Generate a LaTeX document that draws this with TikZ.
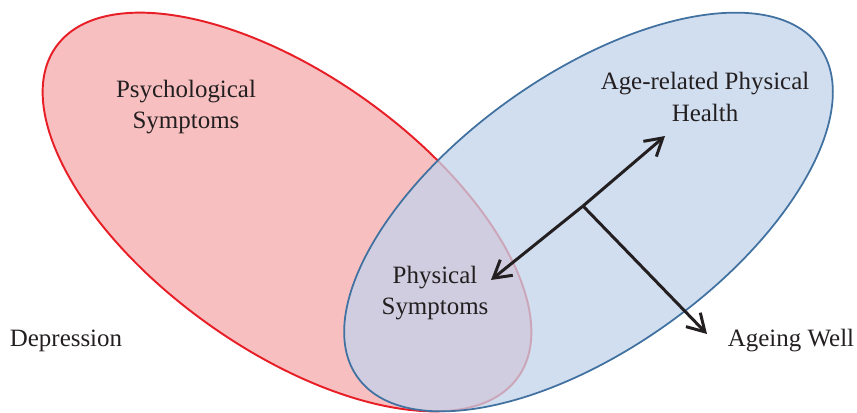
\documentclass[tikz,border=0pt]{standalone}
\usepackage{fontspec}
\setmainfont{Liberation Serif}
\usetikzlibrary{arrows.meta}
\definecolor{redfill}{RGB}{247,191,192}
\definecolor{redline}{RGB}{232,30,38}
\definecolor{bluefill}{RGB}{194,211,234}
\definecolor{blueline}{RGB}{65,113,160}
\definecolor{inkgray}{RGB}{35,31,32}
\begin{document}
\begin{tikzpicture}[x=0.02cm, y=-0.02cm]
    \tikzstyle{redpatch} = [fill=redfill, draw=redline, line width=1.1pt]
    \tikzstyle{bluepatch} = [fill=bluefill, fill opacity=0.75, draw=blueline, line width=1pt]
    \tikzstyle{textlabel} = [font=\fontsize{14.2}{18}\selectfont, text=inkgray, align=center, inner sep=0pt]
    \tikzstyle{relarrow} = [draw=inkgray, line width=1.7pt, -{Straight Barb[length=3.4mm, width=4mm]}]

    \useasboundingbox (0,0) rectangle (857,412);

    % Depression and ageing ellipses
    \draw[redpatch, shift={(287,212)}, rotate=-35.6] (0,0) ellipse [x radius=284, y radius=137];
    \draw[bluepatch, shift={(588.5,212)}, rotate=35.6] (0,0) ellipse [x radius=284, y radius=137];

    % Labels
    \node[textlabel] (psych) at (186,107) {Psychological\\Symptoms};
    \node[textlabel] (agehealth) at (705,97) {Age-related Physical\\Health};
    \node[textlabel] (physsym) at (435,293) {Physical\\Symptoms};
    \node[textlabel] (depression) at (66,341) {Depression};
    \node[textlabel] (ageingwell) at (791,341) {Ageing Well};

    % Arrow ends
    \coordinate (hub) at (583,206);
    \coordinate (healthtip) at (665,136);
    \coordinate (symptip) at (491,280);
    \coordinate (welltip) at (707,334);

    % Connections
    \draw[relarrow] (hub) -- (healthtip);
    \draw[relarrow] (hub) -- (symptip);
    \draw[relarrow] (hub) -- (welltip);
\end{tikzpicture}
\end{document}
